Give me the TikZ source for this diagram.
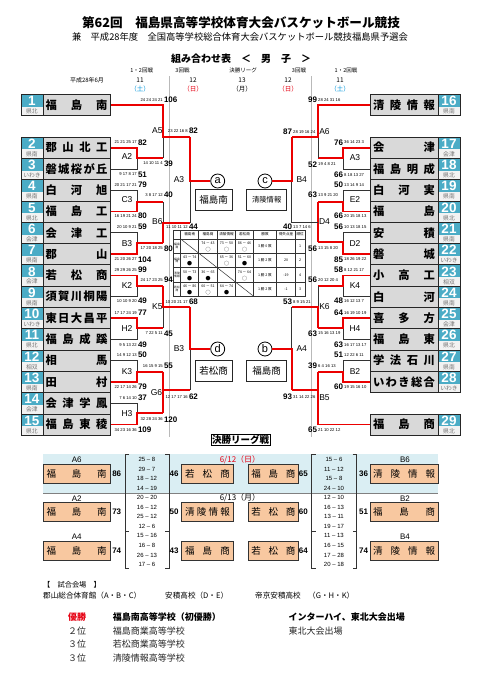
\documentclass[tikz,border=0pt]{standalone}
\usepackage{fontspec}
\setmainfont{Noto Sans CJK JP}
\newfontfamily\arial{Liberation Sans}
\newcommand\fs[1]{\fontsize{#1}{#1}\selectfont}
\definecolor{tealc}{RGB}{75,172,198}
\definecolor{namegray}{RGB}{217,217,217}
\definecolor{regbg}{RGB}{242,242,242}
\definecolor{redc}{RGB}{235,0,0}
\definecolor{orangec}{RGB}{248,200,160}
\definecolor{bandblue}{RGB}{218,238,243}
\definecolor{dayblue}{RGB}{0,150,220}
\definecolor{dayred}{RGB}{230,0,18}
\tikzset{
  bk/.style={draw=black!80, line width=0.9pt},
  rl/.style={draw=redc, line width=1.8pt},
  boxline/.style={draw=black!85, line width=0.8pt},
  numtxt/.style={inner sep=0, text=white, font=\arial\bfseries\fs{13.5}},
  regtxt/.style={inner sep=0, text=black!55, font=\fs{5.8}},
  nametxt/.style={inner sep=0, font=\bfseries\fs{11.3}},
  smalltxt/.style={inner sep=0, font=\arial\fs{4.2}},
  tottxt/.style={inner sep=0, font=\arial\bfseries\fs{8}},
  mlab/.style={inner sep=0, font=\arial\fs{8.5}},
  hd/.style={inner sep=0, font=\fs{5.5}},
  dt/.style={inner sep=0, font=\fs{6.5}},
  circ/.style={circle, draw=black, line width=0.8pt, minimum size=14pt, inner sep=0, font=\arial\fs{11}},
  nbox/.style={draw=black!85, line width=0.8pt, minimum height=21pt, inner sep=0},
  tbl/.style={inner sep=0, font=\fs{3.6}},
  mk/.style={inner sep=0, font=\fs{5}},
  obox/.style={draw=black!80, fill=orangec, line width=0.8pt, minimum height=19pt, inner sep=0, font=\fs{9.5}},
  fsc/.style={inner sep=0, font=\arial\fs{6}},
  ftot/.style={inner sep=0, font=\arial\bfseries\fs{8}},
  flab/.style={inner sep=0, font=\arial\fs{8}},
  btxt/.style={inner sep=0, anchor=west, font=\fs{7.6}},
  rtxt/.style={inner sep=0, anchor=west, font=\bfseries\fs{9}},
  ptxt/.style={inner sep=0, anchor=west, text=black!85, font=\fs{9}}
}
\newcommand\lteam[5]{%
  \fill[tealc] (21,#2) rectangle (43,#2+12.3);
  \fill[regbg] (21,#2+12.3) rectangle (43,#2+21.3);
  \fill[namegray] (43,#2) rectangle (110,#2+21.3);
  \draw[boxline] (21,#2) rectangle (110,#2+21.3);
  \draw[boxline] (43,#2) -- (43,#2+21.3);
  \node[numtxt] (#1n) at (32,#2+6.6) {#3};
  \node[regtxt] (#1r) at (32,#2+17) {#5};
  \node[nametxt] (#1) at (76.5,#2+10.65) {\makebox[62pt]{#4}};
}
\newcommand\rteam[5]{%
  \fill[namegray] (370,#2) rectangle (438,#2+21.3);
  \fill[tealc] (438,#2) rectangle (460,#2+12.3);
  \fill[regbg] (438,#2+12.3) rectangle (460,#2+21.3);
  \draw[boxline] (370,#2) rectangle (460,#2+21.3);
  \draw[boxline] (438,#2) -- (438,#2+21.3);
  \node[numtxt] (#1n) at (449,#2+6.6) {#3};
  \node[regtxt] (#1r) at (449,#2+17) {#5};
  \node[nametxt] (#1) at (404,#2+10.65) {\makebox[62pt]{#4}};
}
\newcommand\ls[4]{\node[smalltxt,anchor=east] at (#1,#2) {#3};\node[tottxt,anchor=west] at (#1+0.8,#2) {#4};}
\newcommand\rs[4]{\node[tottxt,anchor=east] at (#1-0.8,#2) {#4};\node[smalltxt,anchor=west] at (#1,#2) {#3};}
\begin{document}
\begin{tikzpicture}[x=1pt,y=-1pt]
\useasboundingbox[fill=white] (0,0) rectangle (481,680);

% ---------- titles ----------
\node[font=\bfseries\fs{12.6}, inner sep=0] (title) at (241,23) {第62回　福島県高等学校体育大会バスケットボール競技};
\node[font=\fs{9.3}, inner sep=0] (sub) at (240,37) {兼　平成28年度　全国高等学校総合体育大会バスケットボール競技福島県予選会};
\node[font=\bfseries\fs{10}, inner sep=0] (kumi) at (241,59) {組み合わせ表　＜　男　子　＞};

\node[hd] (h1) at (141.7,70) {1・2回戦};
\node[hd] (h2) at (182.5,70) {3回戦};
\node[hd] (h3) at (243,70) {決勝リーグ};
\node[hd] (h4) at (299,70) {3回戦};
\node[hd] (h5) at (346,70) {1・2回戦};
\node[inner sep=0,font=\fs{6}] (ym) at (87,80) {平成28年6月};
\node[dt] (d1) at (140,80) {11};
\node[dt] (d2) at (193,80) {12};
\node[dt] (d3) at (242,80) {13};
\node[dt] (d4) at (288,80) {12};
\node[dt] (d5) at (340,80) {11};
\node[dt,text=dayblue] (w1) at (140,89.5) {（土）};
\node[dt,text=dayred] (w2) at (193,89.5) {（日）};
\node[dt] (w3) at (242,89.5) {（月）};
\node[dt,text=dayred] (w4) at (288,89.5) {（日）};
\node[dt,text=dayblue] (w5) at (340,89.5) {（土）};

% ---------- gray day separators ----------
\draw[gray!55, line width=1.4pt] (169.5,76) -- (169.5,437);
\draw[gray!55, line width=1.4pt] (311.7,76) -- (311.7,437);

% ---------- left bracket ----------
% A2
\draw[bk] (110,168.95) -- (137,168.95) -- (137,158);
\draw[rl] (110,147.65) -- (137,147.65) -- (137,158) -- (163,158);
% A5
\draw[bk] (163,137) -- (163,158);
\draw[rl] (110,105.15) -- (163,105.15) -- (163,137) -- (190,137);
% C3
\draw[bk] (110,190.25) -- (137,190.25) -- (137,202);
\draw[rl] (110,211.55) -- (137,211.55) -- (137,202) -- (163,202);
% B3
\draw[bk] (110,232.85) -- (137,232.85) -- (137,243.3);
\draw[rl] (110,254.15) -- (137,254.15) -- (137,243.3) -- (163,243.3);
% B6
\draw[bk] (163,202) -- (163,222.7);
\draw[rl] (163,243.3) -- (163,222.7) -- (190,222.7);
% A3
\draw[bk] (190,181) -- (190,222.7);
% K2
\draw[bk] (110,296.75) -- (137,296.75) -- (137,286);
\draw[rl] (110,275.45) -- (137,275.45) -- (137,286) -- (163,286);
% H2
\draw[bk] (110,339.35) -- (137,339.35) -- (137,328.3);
\draw[rl] (110,318.05) -- (137,318.05) -- (137,328.3) -- (163,328.3);
% K5
\draw[bk] (163,306.7) -- (163,328.3);
\draw[rl] (163,286) -- (163,306.7) -- (190,306.7);
% K3
\draw[bk] (110,360.65) -- (137,360.65) -- (137,371.7);
\draw[rl] (110,381.95) -- (137,381.95) -- (137,371.7) -- (163,371.7);
% H3
\draw[bk] (110,403.25) -- (137,403.25) -- (137,413.3);
\draw[rl] (110,424.55) -- (137,424.55) -- (137,413.3) -- (163,413.3);
% G6
\draw[rl] (163,371.7) -- (163,413.3);
\draw[rl] (163,390) -- (190,390);
% B3 semi
\draw[bk] (190,349) -- (190,390);

% ---------- right bracket ----------
% A3
\draw[bk] (370,168.95) -- (343.3,168.95) -- (343.3,158);
\draw[rl] (370,147.65) -- (343.3,147.65) -- (343.3,158) -- (318.3,158);
% A6
\draw[bk] (318.3,137) -- (318.3,158);
\draw[rl] (370,105.15) -- (318.3,105.15) -- (318.3,137) -- (291.7,137);
% E2
\draw[bk] (370,190.25) -- (343.3,190.25) -- (343.3,202);
\draw[rl] (370,211.55) -- (343.3,211.55) -- (343.3,202) -- (318.3,202);
% D2
\draw[bk] (370,232.85) -- (343.3,232.85) -- (343.3,242);
\draw[rl] (370,254.15) -- (343.3,254.15) -- (343.3,242) -- (318.3,242);
% D4
\draw[rl] (318.3,202) -- (318.3,242);
\draw[bk] (318.3,222.7) -- (291.7,222.7) -- (291.7,181);
% K4
\draw[bk] (370,296.75) -- (343.3,296.75) -- (343.3,286);
\draw[rl] (370,275.45) -- (343.3,275.45) -- (343.3,286) -- (318.3,286);
% H4
\draw[bk] (370,339.35) -- (343.3,339.35) -- (343.3,328.3);
\draw[rl] (370,318.05) -- (343.3,318.05) -- (343.3,328.3) -- (318.3,328.3);
% K6
\draw[bk] (318.3,286) -- (318.3,306.7);
\draw[rl] (318.3,328.3) -- (318.3,306.7) -- (291.7,306.7);
% B2
\draw[bk] (370,360.65) -- (343.3,360.65) -- (343.3,371.7);
\draw[rl] (370,381.95) -- (343.3,381.95) -- (343.3,371.7) -- (318.3,371.7);
% B5
\draw[rl] (370,424.55) -- (318.3,424.55) -- (318.3,371.7);
\draw[rl] (318.3,390) -- (291.7,390);
% A4
\draw[bk] (291.7,306.7) -- (291.7,349);

% ---------- circles and semifinal winners ----------
\node[circ, fill=white] (ca) at (217.7,181) {a};
\node[circ, fill=white] (cc) at (265,181) {c};
\node[circ, fill=white] (cd) at (217.7,349) {d};
\node[circ, fill=white] (cb) at (265,349) {b};
\draw[rl] (190,137) -- (190,181) -- (ca);
\draw[rl] (190,306.7) -- (190,349) -- (cd);
\draw[rl] (291.7,137) -- (291.7,181) -- (cc);
\draw[rl] (291.7,390) -- (291.7,349) -- (cb);
\node[nbox, minimum width=37pt, font=\fs{9.5}] (na) at (213.5,200.2) {福島南};
\node[nbox, minimum width=40pt, font=\fs{7.3}] (nc) at (266.7,200.2) {清陵情報};
\node[nbox, minimum width=37pt, font=\fs{9.5}] (nd) at (213.5,370.8) {若松商};
\node[nbox, minimum width=40pt, font=\fs{9.5}] (nb) at (266.7,370.8) {福島商};

% ---------- teams ----------
\lteam{L1}{94.5}{1}{福\hfill{}島\hfill{}南}{県北}
\lteam{L2}{137}{2}{郡\hfill{}山\hfill{}北\hfill{}工}{県南}
\lteam{L3}{158.3}{3}{磐\hfill{}城\hfill{}桜\hfill{}が\hfill{}丘}{いわき}
\lteam{L4}{179.6}{4}{白\hfill{}河\hfill{}旭}{県南}
\lteam{L5}{200.9}{5}{福\hfill{}島\hfill{}工}{県北}
\lteam{L6}{222.2}{6}{会\hfill{}津\hfill{}工}{会津}
\lteam{L7}{243.5}{7}{郡\hfill{}山}{県南}
\lteam{L8}{264.8}{8}{若\hfill{}松\hfill{}商}{会津}
\lteam{L9}{286.1}{9}{須\hfill{}賀\hfill{}川\hfill{}桐\hfill{}陽}{県南}
\lteam{L10}{307.4}{10}{東\hfill{}日\hfill{}大\hfill{}昌\hfill{}平}{いわき}
\lteam{L11}{328.7}{11}{福\hfill{}島\hfill{}成\hfill{}蹊}{県北}
\lteam{L12}{350}{12}{相\hfill{}馬}{相双}
\lteam{L13}{371.3}{13}{田\hfill{}村}{県南}
\lteam{L14}{392.6}{14}{会\hfill{}津\hfill{}学\hfill{}鳳}{会津}
\lteam{L15}{413.9}{15}{福\hfill{}島\hfill{}東\hfill{}稜}{県北}

\rteam{R16}{94.5}{16}{清\hfill{}陵\hfill{}情\hfill{}報}{県南}
\rteam{R17}{137}{17}{会\hfill{}津}{会津}
\rteam{R18}{158.3}{18}{福\hfill{}島\hfill{}明\hfill{}成}{県北}
\rteam{R19}{179.6}{19}{白\hfill{}河\hfill{}実}{県南}
\rteam{R20}{200.9}{20}{福\hfill{}島}{県北}
\rteam{R21}{222.2}{21}{安\hfill{}積}{県南}
\rteam{R22}{243.5}{22}{磐\hfill{}城}{いわき}
\rteam{R23}{264.8}{23}{小\hfill{}高\hfill{}工}{相双}
\rteam{R24}{286.1}{24}{白\hfill{}河}{県南}
\rteam{R25}{307.4}{25}{喜\hfill{}多\hfill{}方}{会津}
\rteam{R26}{328.7}{26}{福\hfill{}島\hfill{}東}{県北}
\rteam{R27}{350}{27}{学\hfill{}法\hfill{}石\hfill{}川}{県南}
\rteam{R28}{371.3}{28}{い\hfill{}わ\hfill{}き\hfill{}総\hfill{}合}{いわき}
\rteam{R29}{413.9}{29}{福\hfill{}島\hfill{}商}{県北}

% ---------- match labels ----------
\node[mlab] (mA2) at (127,156.7) {A2};
\node[mlab] (mC3) at (127,200) {C3};
\node[mlab] (mB3) at (127,243.3) {B3};
\node[mlab] (mK2) at (127,286) {K2};
\node[mlab] (mH2) at (127,328.3) {H2};
\node[mlab] (mK3) at (127,371.7) {K3};
\node[mlab] (mH3) at (127,413.3) {H3};
\node[mlab] (mA5) at (157.3,131) {A5};
\node[mlab] (mB6) at (157.3,221.7) {B6};
\node[mlab] (mK5) at (157.3,306.7) {K5};
\node[mlab] (mG6) at (156.5,393) {G6};
\node[mlab] (mA3) at (179,179.3) {A3};
\node[mlab] (mB3s) at (179,348.3) {B3};

\node[mlab] (nA3) at (355,157.7) {A3};
\node[mlab] (nE2) at (355,200) {E2};
\node[mlab] (nD2) at (355,243.3) {D2};
\node[mlab] (nK4) at (355,286) {K4};
\node[mlab] (nH4) at (355,328.3) {H4};
\node[mlab] (nB2) at (355,371.7) {B2};
\node[mlab] (nA6) at (324.5,131.7) {A6};
\node[mlab] (nD4) at (324.5,221.7) {D4};
\node[mlab] (nK6) at (324.5,306.7) {K6};
\node[mlab] (nB5) at (324.5,397.7) {B5};
\node[mlab] (nB4) at (301.7,180) {B4};
\node[mlab] (nA4) at (301.7,348.3) {A4};

% ---------- scores left ----------
\ls{137}{142.3}{21 21 25 17}{82}
\ls{137}{174.3}{9 17 8 17}{51}
\ls{137}{185}{20 21 17 21}{79}
\ls{137}{216}{16 19 21 24}{80}
\ls{137}{226.7}{20 10 9 21}{59}
\ls{137}{259.3}{21 20 26 27}{104}
\ls{137}{270}{29 29 26 25}{99}
\ls{137}{300.7}{10 10 9 20}{49}
\ls{137}{312.7}{17 17 24 19}{77}
\ls{137}{345}{9 5 13 22}{49}
\ls{137}{355}{14 9 12 13}{50}
\ls{137}{386.7}{22 17 14 26}{79}
\ls{137}{397.7}{7 6 14 10}{37}
\ls{137}{430}{34 23 16 36}{109}
\ls{163}{100}{24 24 24 21}{106}
\ls{163}{163.3}{14 10 11 4}{39}
\ls{163}{195}{3 8 17 12}{40}
\ls{163}{248.3}{17 20 18 25}{80}
\ls{163}{280}{24 17 23 25}{94}
\ls{163}{333.3}{7 22 5 11}{45}
\ls{163}{365.7}{16 15 9 15}{55}
\ls{163}{419.3}{32 28 24 36}{120}
\ls{188}{131}{23 22 16 8}{82}
\ls{188}{226.7}{11 10 11 12}{44}
\ls{188}{301.7}{10 20 21 17}{68}
\ls{188}{397}{12 17 17 16}{62}

% ---------- scores right ----------
\rs{344}{142.3}{36 14 23 3}{76}
\rs{344}{175}{8 18 13 27}{66}
\rs{344}{185}{13 14 9 14}{50}
\rs{344}{216}{20 15 18 13}{66}
\rs{344}{226.7}{10 13 18 15}{56}
\rs{344}{259.3}{18 26 19 22}{85}
\rs{344}{270}{8 12 21 17}{58}
\rs{344}{300.7}{16 12 13 7}{48}
\rs{344}{312.7}{16 19 10 19}{64}
\rs{344}{345}{16 17 13 17}{63}
\rs{344}{355}{12 22 6 11}{51}
\rs{344}{386.7}{19 15 16 10}{60}
\rs{318}{100}{28 24 31 16}{99}
\rs{318}{164.3}{19 4 8 21}{52}
\rs{318}{195}{13 9 21 20}{63}
\rs{318}{248.3}{13 15 8 20}{56}
\rs{318}{280}{20 12 20 4}{56}
\rs{318}{333.3}{15 16 13 19}{63}
\rs{318}{365.7}{6 4 16 13}{39}
\rs{318}{430}{21 10 22 12}{65}
\rs{293}{131.7}{28 19 16 24}{87}
\rs{293}{226.7}{13 7 14 6}{40}
\rs{293}{301.7}{8 9 15 21}{53}
\rs{293}{397}{31 14 22 26}{93}

% ---------- league table ----------
\fill[white] (173.3,230) rectangle (305,296);
\draw[black!80, line width=0.6pt] (173.3,230) rectangle (305,296);
\foreach \xx in {180.7,198.7,217.3,235.7,253.3,276.7,295.3}
  \draw[black!80, line width=0.5pt] (\xx,230) -- (\xx,296);
\foreach \yy in {239,253.3,267.6,281.9}
  \draw[black!80, line width=0.5pt] (173.3,\yy) -- (305,\yy);
\draw[black!80, line width=0.5pt] (180.7,239) -- (253.3,296);
\node[tbl] (th1) at (189.7,234.5) {福島南};
\node[tbl] (th2) at (208,234.5) {福島商};
\node[tbl] (th3) at (226.5,234.5) {清陵情報};
\node[tbl] (th4) at (244.5,234.5) {若松商};
\node[tbl] (th5) at (265,234.5) {勝敗};
\node[tbl] (th6) at (286,234.5) {得失点差};
\node[tbl] (th7) at (300.2,234.5) {順位};
\node[tbl, align=center, font=\fs{2.8}] (tr1) at (177,246.2) {福島\\南};
\node[tbl, align=center, font=\fs{2.8}] (tr2) at (177,260.5) {福島\\商};
\node[tbl, align=center, font=\fs{2.8}] (tr3) at (177,274.8) {清陵\\情報};
\node[tbl, align=center, font=\fs{2.8}] (tr4) at (177,289) {若松\\商};
% row 1
\node[tbl] at (208,243.2) {74 － 43}; \node[mk] at (208,249.5) {○};
\node[tbl] at (226.5,243.2) {73 － 50}; \node[mk] at (226.5,249.5) {○};
\node[tbl] at (244.5,243.2) {86 － 46}; \node[mk] at (244.5,249.5) {○};
\node[tbl] at (265,246.2) {3 勝 0 敗};
\node[tbl] at (300.2,246.2) {1};
% row 2
\node[tbl] at (189.7,257.5) {43 － 74}; \node[mk] at (189.7,263.8) {●};
\node[tbl] at (226.5,257.5) {65 － 36}; \node[mk] at (226.5,263.8) {○};
\node[tbl] at (244.5,257.5) {51 － 60}; \node[mk] at (244.5,263.8) {●};
\node[tbl] at (265,260.5) {1 勝 2 敗};
\node[tbl] at (286,260.5) {20};
\node[tbl] at (300.2,260.5) {2};
% row 3
\node[tbl] at (189.7,271.8) {50 － 73}; \node[mk] at (189.7,278.1) {●};
\node[tbl] at (208,271.8) {36 － 65}; \node[mk] at (208,278.1) {●};
\node[tbl] at (244.5,271.8) {74 － 64}; \node[mk] at (244.5,278.1) {○};
\node[tbl] at (265,274.8) {1 勝 2 敗};
\node[tbl] at (286,274.8) {-19};
\node[tbl] at (300.2,274.8) {4};
% row 4
\node[tbl] at (189.7,286) {46 － 86}; \node[mk] at (189.7,292.3) {●};
\node[tbl] at (208,286) {60 － 51}; \node[mk] at (208,292.3) {○};
\node[tbl] at (226.5,286) {64 － 74}; \node[mk] at (226.5,292.3) {●};
\node[tbl] at (265,289) {1 勝 2 敗};
\node[tbl] at (286,289) {-1};
\node[tbl] at (300.2,289) {3};

% ---------- final league ----------
\node[draw=black, line width=0.8pt, inner sep=1pt, font=\bfseries\fs{9.5}] (fl) at (240.5,440) {決勝リーグ戦};
\fill[bandblue] (43.3,454) rectangle (438.3,493.3);
\draw[gray, line width=1pt] (43.3,493.3) -- (438.3,493.3);
\node[inner sep=0, font=\fs{8}, text=dayred] (dA) at (240,459.5) {6/12（日）};
\node[inner sep=0, font=\fs{8}] (dB) at (240,497.8) {6/13（月）};
% brackets
\foreach \bx/\dir in {125/1,169.3/-1,311.7/1,356.7/-1}{
  \draw[black!80, line width=0.9pt] (\bx+\dir*4,454) -- (\bx,454) -- (\bx,568) -- (\bx+\dir*4,568);
  \draw[black!80, line width=0.9pt] (\bx,531) -- (\bx+\dir*4,531);
}
% row 1
\node[flab] (fA6) at (76.7,460) {A6};
\node[obox, minimum width=66.7pt] (f1a) at (76.7,473.8) {\makebox[60pt]{福\hfill{}島\hfill{}南}};
\node[ftot] (t1a) at (116.7,473.8) {86};
\node[obox, minimum width=51.6pt] (f1b) at (207.5,473.8) {\makebox[45pt]{若\hfill{}松\hfill{}商}};
\node[ftot] (t1b) at (174,473.8) {46};
\node[obox, minimum width=50pt] (f1c) at (273.3,473.8) {\makebox[44pt]{福\hfill{}島\hfill{}商}};
\node[ftot] (t1c) at (303.3,473.8) {65};
\node[obox, minimum width=68.3pt] (f1d) at (404.2,473.8) {\makebox[62pt]{清\hfill{}陵\hfill{}情\hfill{}報}};
\node[ftot] (t1d) at (363.5,473.8) {36};
\node[flab] (fB6) at (405,460) {B6};
% row 2
\node[flab] (fA2) at (76.7,498.5) {A2};
\node[obox, minimum width=66.7pt] (f2a) at (76.7,512.2) {\makebox[60pt]{福\hfill{}島\hfill{}南}};
\node[ftot] (t2a) at (116.7,512.2) {73};
\node[obox, minimum width=51.6pt] (f2b) at (207.5,512.2) {\makebox[45pt]{清\hfill{}陵\hfill{}情\hfill{}報}};
\node[ftot] (t2b) at (174,512.2) {50};
\node[obox, minimum width=50pt] (f2c) at (273.3,512.2) {\makebox[44pt]{若\hfill{}松\hfill{}商}};
\node[ftot] (t2c) at (303.3,512.2) {60};
\node[obox, minimum width=68.3pt] (f2d) at (404.2,512.2) {\makebox[62pt]{福\hfill{}島\hfill{}商}};
\node[ftot] (t2d) at (363.5,512.2) {51};
\node[flab] (fB2) at (405,498.5) {B2};
% row 3
\node[flab] (fA4) at (76.7,537) {A4};
\node[obox, minimum width=66.7pt] (f3a) at (76.7,550.5) {\makebox[60pt]{福\hfill{}島\hfill{}南}};
\node[ftot] (t3a) at (116.7,550.5) {74};
\node[obox, minimum width=51.6pt] (f3b) at (207.5,550.5) {\makebox[45pt]{福\hfill{}島\hfill{}商}};
\node[ftot] (t3b) at (174,550.5) {43};
\node[obox, minimum width=50pt] (f3c) at (273.3,550.5) {\makebox[44pt]{若\hfill{}松\hfill{}商}};
\node[ftot] (t3c) at (303.3,550.5) {64};
\node[obox, minimum width=68.3pt] (f3d) at (404.2,550.5) {\makebox[62pt]{清\hfill{}陵\hfill{}情\hfill{}報}};
\node[ftot] (t3d) at (363.5,550.5) {74};
\node[flab] (fB4) at (405,537) {B4};
% quarter scores
\foreach \s [count=\i] in {25 – 8,29 – 7,18 – 12,14 – 19,20 – 20,16 – 12,25 – 12,12 – 6,15 – 16,16 – 8,26 – 13,17 – 6}
  \node[fsc] at (147,{459.5+(\i-1)*9.55}) {\s};
\foreach \s [count=\i] in {15 – 6,11 – 12,15 – 8,24 – 10,12 – 10,16 – 13,13 – 11,19 – 17,11 – 13,16 – 15,17 – 28,20 – 18}
  \node[fsc] at (334,{459.5+(\i-1)*9.55}) {\s};

% ---------- venues and results ----------
\node[btxt, font=\fs{7.2}] (v1) at (43,585) {【　試合会場　】};
\node[btxt] (v2) at (43,595.7) {郡山総合体育館（A・B・C）};
\node[btxt] (v3) at (165,595.7) {安積高校（D・E）};
\node[btxt] (v4) at (255,595.7) {帝京安積高校};
\node[btxt] (v5) at (308,595.7) {（G・H・K）};
\node[rtxt, text=dayred] (p1) at (68,616.7) {優勝};
\node[rtxt] (s1) at (112.7,616.7) {福島南高等学校（初優勝）};
\node[rtxt] (e1) at (288.3,616.7) {インターハイ、東北大会出場};
\node[ptxt] (p2) at (68,630.7) {２位};
\node[ptxt] (s2) at (112.7,630.7) {福島商業高等学校};
\node[ptxt] (e2) at (288.3,630.7) {東北大会出場};
\node[ptxt] (p3) at (68,644.3) {３位};
\node[ptxt] (s3) at (112.7,644.3) {若松商業高等学校};
\node[ptxt] (p4) at (68,658.3) {３位};
\node[ptxt] (s4) at (112.7,658.3) {清陵情報高等学校};
\end{tikzpicture}
\end{document}
